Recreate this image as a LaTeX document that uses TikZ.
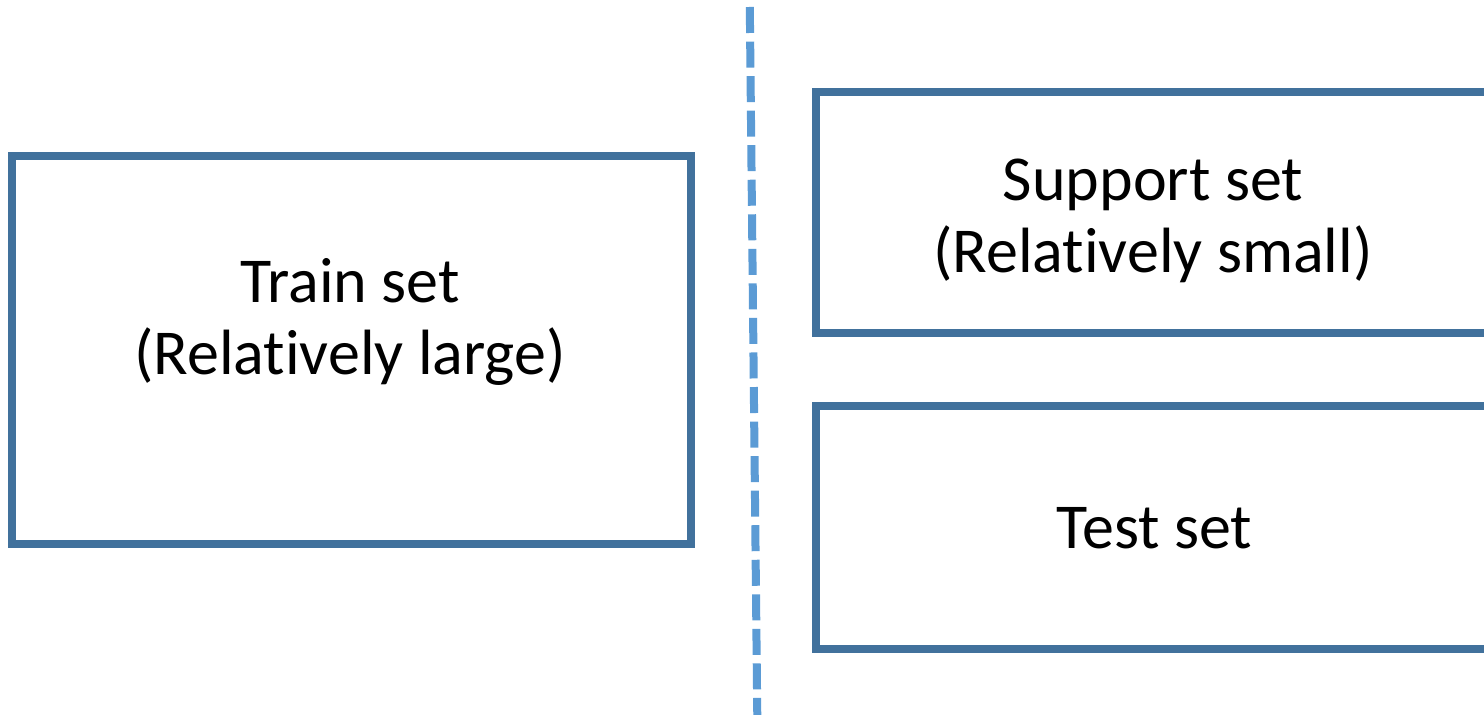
\documentclass[tikz,border=0pt]{standalone}
\usepackage{fontspec}
\setmainfont{Carlito}[Ligatures=NoCommon]
\definecolor{boxline}{HTML}{41719C}
\definecolor{divider}{HTML}{5B9BD5}
% "Relatively" with the t and i kept as separate glyphs
\newcommand{\relword}{Relat\kern0pt ively}
\begin{document}
\begin{tikzpicture}[x=1pt,y=1pt,
  setbox/.style={draw=boxline, line width=8pt, rectangle, inner sep=0pt, fill=none},
  setlabel/.style={inner sep=0pt, anchor=base, align=center,
    font=\fontsize{64}{72.5}\selectfont, text=black},
  splitline/.style={draw=divider, line width=8pt, dash pattern=on 26pt off 8.55pt}
]
\useasboundingbox (0,0) rectangle (1484,715);
\clip (0,0) rectangle (1484,715);

% the three data-set boxes
\node[setbox, minimum width=679pt, minimum height=388pt] (train) at (351.5,365) {};
\node[setbox, minimum width=673.5pt, minimum height=241pt] (support) at (1152.25,502) {};
\node[setbox, minimum width=673.5pt, minimum height=243.3pt] (test) at (1152.25,187.65) {};

% labels, anchored on the baseline of their last line
\node[setlabel] (trainlbl) at (350,340) {Train set\\(\relword{} large)};
\node[setlabel] (supportlbl) at (1153,442) {Support set\\(\relword{} small)};
\node[setlabel] (testlbl) at (1154.5,166.7) {Test set};

% dashed divider between the two sides
\coordinate (divtop) at (749.8,708);
\coordinate (divbot) at (757.3,-2);
\draw[splitline] (divtop) -- (divbot);
\end{tikzpicture}
\end{document}
